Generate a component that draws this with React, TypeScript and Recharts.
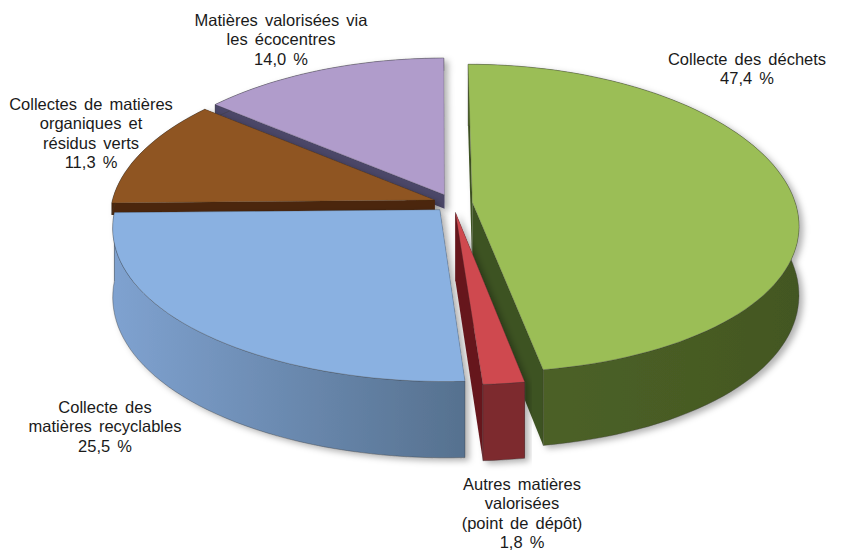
import { Pie, PieChart } from "recharts";

// order runs counter-clockwise from 12 o'clock so back slices paint first
const sliceNames = [
  "Matières valorisées via les écocentres",
  "Collectes de matières organiques et résidus verts",
  "Collecte des matières recyclables",
  "Autres matières valorisées (point de dépôt)",
  "Collecte des déchets",
];
const sliceValues = [14.0, 11.3, 25.5, 1.8, 47.4];

const topColors = ["#b09ccb", "#8f5523", "#8ab1e1", "#cf4a50", "#9bbe56"];
const rimColors = ["#4c4768", "#4c270a", "#7fa2d0", "#7d2a2e", "#4f6428"];
const rimDark = ["#4c4768", "#4c270a", "#56718f", "#7d2a2e", "#435722"];
const edgeColors = ["#4c4768", "#4c270a", "#56718f", "#66181f", "#3e5222"];
// back slices only show a thin band before the next slice covers them
const wallDepths = [14, 12, 68, 68, 68];

const labelLines = [
  ["Matières valorisées via", "les écocentres", "14,0 %"],
  ["Collectes de matières", "organiques et", "résidus verts", "11,3 %"],
  ["Collecte des", "matières recyclables", "25,5 %"],
  ["Autres matières", "valorisées", "(point de dépôt)", "1,8 %"],
  ["Collecte des déchets", "47,4 %"],
];
const labelX = [281, 91, 105, 522, 747];
const labelY = [26, 110, 413, 490, 65];
const lineGap = 19.4;

const RED = 3;
const TILT = 0.472;
const PERSP_Y = 0.104;
const PERSP_X = 0.13;
const EXPLODE = 0.06;

const data = sliceNames.map((name, i) => ({ name, value: sliceValues[i] }));

const RAD = Math.PI / 180;

function toPath(pts: number[][]) {
  return "M" + pts.map((p) => `${p[0].toFixed(1)},${p[1].toFixed(1)}`).join("L") + "Z";
}

function Slice3D(props: any) {
  const { cx, cy, outerRadius, startAngle, endAngle, index } = props;
  const depth = wallDepths[index];
  const mid = ((startAngle + endAngle) / 2) * RAD;
  const ox = Math.cos(mid) * EXPLODE;
  const oy = -Math.sin(mid) * EXPLODE;

  // disk coords -> screen, far side of the pie shrinks a little
  const project = (u: number, v: number, down: number) => {
    const sx = 1 / (1 - PERSP_X * v);
    const sy = 1 / (1 - PERSP_Y * v);
    const lean = 5 * v + 3 * v * v;
    return [cx + outerRadius * u * sx + lean, cy + outerRadius * TILT * v * sy + down * sy];
  };
  const at = (a: number, r: number, down: number) =>
    project(ox + r * Math.cos(a * RAD), oy - r * Math.sin(a * RAD), down);

  const steps = Math.max(4, Math.ceil(Math.abs(endAngle - startAngle) / 2));
  const angles: number[] = [];
  for (let i = 0; i <= steps; i++) {
    angles.push(startAngle + ((endAngle - startAngle) * i) / steps);
  }

  const apex = at(0, 0, 0);
  const apexLow = at(0, 0, depth);
  const top = [apex, ...angles.map((a) => at(a, 1, 0))];
  const rim = [
    ...angles.map((a) => at(a, 1, 0)),
    ...[...angles].reverse().map((a) => at(a, 1, depth)),
  ];
  const edge = (a: number) => [apex, at(a, 1, 0), at(a, 1, depth), apexLow];

  return (
    <g filter={`url(#shadow${index})`}>
      <defs>
        <filter id={`shadow${index}`} x="-10%" y="-10%" width="120%" height="120%">
          <feDropShadow dx="4" dy="3" stdDeviation="3" floodColor="#000" floodOpacity="0.3" />
        </filter>
        <linearGradient id={`rim${index}`} x1="0" y1="0" x2="1" y2="0">
          <stop offset="0%" stopColor={rimColors[index]} />
          <stop offset="100%" stopColor={rimDark[index]} />
        </linearGradient>
      </defs>
      <path d={toPath(edge(startAngle))} fill={edgeColors[index]} />
      <path d={toPath(edge(endAngle))} fill={edgeColors[index]} />
      <path d={toPath(rim)} fill={`url(#rim${index})`} stroke="#3a3a3a" strokeWidth={0.4} />
      <path d={toPath(top)} fill={topColors[index]} stroke="#333" strokeWidth={0.4} strokeOpacity={0.6} />
    </g>
  );
}

function SliceLabel(props: any) {
  const i = props.index;
  return (
    <text
      textAnchor="middle"
      fontFamily='"Liberation Sans", Arial, sans-serif'
      fontSize={16.5}
      wordSpacing={2.5}
      fill="#1a1a1a"
    >
      {labelLines[i].map((line, k) => (
        <tspan key={k} x={labelX[i]} y={labelY[i] + k * lineGap}>
          {line}
        </tspan>
      ))}
    </text>
  );
}

export default function App() {
  return (
    <div style={{ position: "absolute", left: 0, top: 0, width: 841, height: 550, background: "#fff" }}>
      <PieChart width={841} height={550} margin={{ top: 0, right: 0, bottom: 0, left: 0 }}>
        <Pie
          data={data}
          dataKey="value"
          nameKey="name"
          cx={453}
          cy={203}
          outerRadius={323}
          startAngle={90}
          endAngle={450}
          isAnimationActive={false}
          labelLine={false}
          label={SliceLabel}
          shape={(p: any) => (p.index === RED ? <g /> : <Slice3D {...p} />)}
        />
        {/* the thin red slice sits in front of the green wall */}
        <Pie
          data={data}
          dataKey="value"
          nameKey="name"
          cx={453}
          cy={203}
          outerRadius={323}
          startAngle={90}
          endAngle={450}
          isAnimationActive={false}
          shape={(p: any) => (p.index === RED ? <Slice3D {...p} /> : <g />)}
        />
      </PieChart>
    </div>
  );
}
